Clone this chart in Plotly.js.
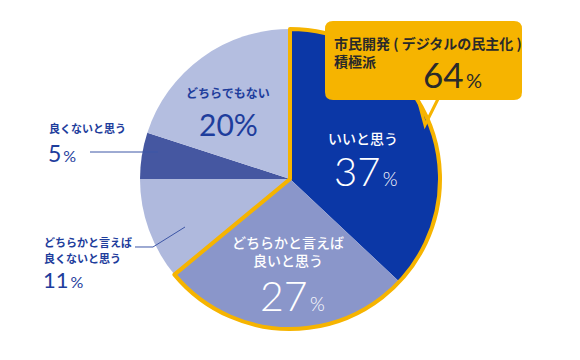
<!DOCTYPE html>
<html>
<head>
<meta charset="utf-8">
<script src="https://cdn.plot.ly/plotly-3.0.1.min.js"></script>
<style>html,body{margin:0;padding:0;background:#fff;}#chart{width:580px;height:360px;}</style>
</head>
<body>
<div id="chart"></div>
<script>
// ---- data ----
const categories = ['いいと思う', 'どちらかと言えば良いと思う', 'どちらかと言えば良くないと思う', '良くないと思う', 'どちらでもない'];
const values = [37, 27, 11, 5, 20];
const highlightGroup = ['市民開発 ( デジタルの民主化 ) 積極派', 'その他'];
const highlightCount = 2; // first two categories form the highlighted group
const highlightTitle = '市民開発 ( デジタルの民主化 )';
const highlightSub = '積極派';

// ---- styles ----
const sliceColors = ['#0b37a6', '#8a96ca', '#afb9dd', '#4557a1', '#b4bee0'];
const yellow = '#f6b400';
const labelBlue = '#1e3d9c';
const jp = '"Noto Sans CJK JP", "Noto Sans", sans-serif';
const num = 'Lato, "Open Sans", sans-serif';

const W = 580, H = 360;
const px = x => x / W;
const py = y => 1 - y / H;

const hlValue = values.slice(0, highlightCount).reduce((a, b) => a + b, 0);
const restValue = values.slice(highlightCount).reduce((a, b) => a + b, 0);

const domain = {x: [px(140), px(440)], y: [py(329), py(29)]};

const traces = [
  {
    type: 'pie', labels: categories, values: values, sort: false, direction: 'clockwise', rotation: 0,
    domain: domain, textinfo: 'none', hoverinfo: 'none',
    marker: {colors: sliceColors, line: {width: 0}}
  },
  {
    type: 'pie', labels: highlightGroup, values: [hlValue, restValue], sort: false, direction: 'clockwise', rotation: 0,
    domain: domain, textinfo: 'none', hoverinfo: 'none',
    marker: {colors: ['rgba(0,0,0,0)', 'rgba(0,0,0,0)'], line: {color: [yellow, 'rgba(0,0,0,0)'], width: [4, 0]}}
  }
];

function ann(text, x, y, size, color, opts) {
  return Object.assign({
    text: text, x: px(x), y: py(y), xref: 'paper', yref: 'paper', showarrow: false,
    xanchor: 'center', yanchor: 'middle', borderpad: 0,
    font: {family: jp, size: size, color: color, weight: 700}
  }, opts || {});
}
function pctText(v, small) {
  return v + '<span style="font-size:' + small + 'px">\u2009%</span>';
}
function numFont(size, color, weight) { return {family: num, size: size, color: color, weight: weight}; }

const annotations = [
  // いいと思う 37%
  ann(categories[0], 363, 138, 14, '#ffffff', {font: {family: jp, size: 14, color: '#ffffff', weight: 500}}),
  ann(pctText(values[0], 19), 366, 171, 40, '#ffffff', {font: numFont(40, '#ffffff', 300)}),
  // どちらかと言えば良いと思う 27%
  ann('どちらかと言えば<br>良いと思う', 288, 251, 14, '#ffffff', {font: {family: jp, size: 14, color: '#ffffff', weight: 500}}),
  ann(pctText(values[1], 19), 292, 295, 41, '#ffffff', {font: numFont(41, '#ffffff', 300)}),
  // どちらでもない 20%
  ann(categories[4], 228, 93, 12, labelBlue),
  ann(values[4] + '%', 228, 124, 30, labelBlue, {font: numFont(30, labelBlue, 400)}),
  // 良くないと思う 5%
  ann(categories[3], 48, 128, 11, labelBlue, {xanchor: 'left'}),
  ann(pctText(values[3], 16), 47, 153, 23, labelBlue, {xanchor: 'left', font: numFont(23, labelBlue, 400)}),
  // どちらかと言えば良くないと思う 11%
  ann('どちらかと言えば', 43, 242, 11, labelBlue, {xanchor: 'left'}),
  ann('良くないと思う', 43, 258, 11, labelBlue, {xanchor: 'left'}),
  ann(pctText(values[2], 16), 42, 279, 22, labelBlue, {xanchor: 'left', font: numFont(22, labelBlue, 400)}),
  // callout
  ann(highlightTitle + '<br>' + highlightSub, 333, 52, 14, '#2a2a2a', {xanchor: 'left', align: 'left'}),
  ann(pctText(hlValue, 20), 452, 74, 35, '#2a2a2a', {font: numFont(35, '#2a2a2a', 400)})
];

// callout box path (rounded rectangle), pixel -> paper
function P(x, y) { return px(x).toFixed(5) + ',' + py(y).toFixed(5); }
const bx0 = 325, by0 = 21, bx1 = 522, by1 = 100, r = 8;
const boxPath = 'M' + P(bx0 + r, by0) + ' L' + P(bx1 - r, by0) + ' Q' + P(bx1, by0) + ' ' + P(bx1, by0 + r) +
  ' L' + P(bx1, by1 - r) + ' Q' + P(bx1, by1) + ' ' + P(bx1 - r, by1) +
  ' L' + P(bx0 + r, by1) + ' Q' + P(bx0, by1) + ' ' + P(bx0, by1 - r) +
  ' L' + P(bx0, by0 + r) + ' Q' + P(bx0, by0) + ' ' + P(bx0 + r, by0) + ' Z';
const pointerPath = 'M' + P(418, 99) + ' L' + P(425, 125) + ' L' + P(438, 99);

const shapes = [
  {type: 'path', xref: 'paper', yref: 'paper', path: boxPath, fillcolor: yellow, line: {width: 0}, layer: 'above'},
  {type: 'path', xref: 'paper', yref: 'paper', path: pointerPath, fillcolor: 'rgba(0,0,0,0)', line: {color: yellow, width: 3}, layer: 'above'},
  {type: 'line', xref: 'paper', yref: 'paper', x0: px(90), y0: py(152), x1: px(158), y1: py(152), line: {color: '#3d56a6', width: 1}},
  {type: 'path', xref: 'paper', yref: 'paper', path: 'M' + P(135, 247) + ' L' + P(153, 247) + ' L' + P(185, 227), line: {color: '#3d56a6', width: 1}}
];

const layout = {
  width: W, height: H, margin: {l: 0, r: 0, t: 0, b: 0},
  paper_bgcolor: '#ffffff', plot_bgcolor: '#ffffff', showlegend: false,
  annotations: annotations, shapes: shapes
};

Plotly.newPlot('chart', traces, layout, {displayModeBar: false, staticPlot: true});
</script>
</body>
</html>
